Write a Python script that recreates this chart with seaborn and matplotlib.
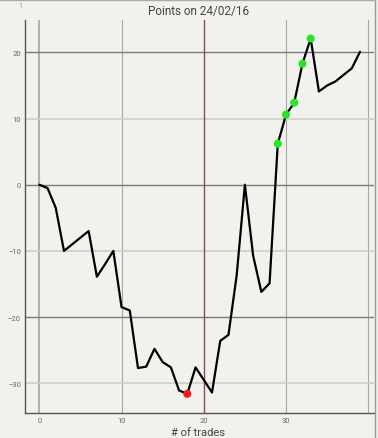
import matplotlib
matplotlib.use("Agg")
import matplotlib.pyplot as plt
import seaborn as sns
import pandas as pd
from matplotlib import font_manager
from matplotlib.lines import Line2D

trades = list(range(40))
points = [0.0, -0.5, -3.5, -10.0, -9.0, -8.0, -7.0, -13.9, -12.0, -10.0,
          -18.5, -19.0, -27.7, -27.5, -24.8, -26.8, -27.6, -31.1, -31.6, -27.6,
          -29.5, -31.4, -23.6, -22.7, -13.7, 0.0, -10.7, -16.2, -14.9, 6.2,
          10.6, 12.4, 18.3, 22.1, 14.1, 15.0, 15.6, 16.6, 17.6, 20.1]
green_idx = [29, 30, 31, 32, 33]
red_idx = [18]
marker_x = 20
title = "Points on 24/02/16"
xlabel = "# of trades"
xticks = [0, 10, 20, 30, 40]
yticks = [-30, -20, -10, 0, 10, 20]

names = {f.name for f in font_manager.fontManager.ttflist}
fam = "Liberation Sans Narrow" if "Liberation Sans Narrow" in names else "Roboto"

sns.set_style("white")
plt.rcParams["font.family"] = [fam, "DejaVu Sans"]

bg = "#f1f1ed"
fig = plt.figure(figsize=(3.78, 4.39), dpi=100, facecolor=bg)
ax = fig.add_axes([25/378, 1-414/439, (374-25)/378, (414-21)/439])
ax.set_facecolor(bg)

df = pd.DataFrame({"trade": trades, "points": points})
sns.lineplot(data=df, x="trade", y="points", color="black", lw=1.6, ax=ax, zorder=4)
g = df.iloc[green_idx]
r = df.iloc[red_idx]
sns.scatterplot(data=g, x="trade", y="points", color="#22e822", s=34, edgecolor="none", ax=ax, zorder=5)
sns.scatterplot(data=r, x="trade", y="points", color="#ee1c1c", s=34, edgecolor="none", ax=ax, zorder=5)

ax.axvline(marker_x, color="#8c4a4e", lw=1.0, zorder=3)

ax.set_xlim(-1.74, 40.7)
ax.set_ylim(-34.5, 24.9)
ax.set_xticks(xticks)
ax.set_yticks(yticks)
ax.set_xticklabels([str(t) if t != 40 else "" for t in xticks])
ax.grid(True, zorder=0)
for i, gl in enumerate(ax.get_ygridlines()):
    v = yticks[i]
    gl.set_color("#7a7a7a" if v % 20 == 0 else "#cdcdc9")
    gl.set_linewidth(1.0 if v % 20 == 0 else 1.2)
for i, gl in enumerate(ax.get_xgridlines()):
    v = xticks[i]
    gl.set_color("#b0b0ac" if v == 0 else "#a8a8a4")
    gl.set_linewidth(1.5 if v == 0 else 0.8)
    if v == 20:
        gl.set_visible(False)

ax.tick_params(axis="both", length=0, labelsize=5.5, labelcolor="#666666", pad=3)
for s in ["top", "right"]:
    ax.spines[s].set_visible(False)
for s in ["left", "bottom"]:
    ax.spines[s].set_color("#555555")
    ax.spines[s].set_linewidth(1.0)

ax.set_xlabel("")
ax.set_ylabel("")
fig.text(199/378, 1-12/439, title, ha="center", va="center", fontsize=8.5, color="#444444")
fig.text(198/378, 1-433/439, xlabel, ha="center", va="center", fontsize=8, color="#444444")
fig.text(20/378, 1-6/439, "1", ha="center", va="center", fontsize=5, color="#999999")

fig.add_artist(Line2D([374.5/378, 374.5/378], [0, 1], transform=fig.transFigure, color="#9a9a96", lw=1.0))
fig.add_artist(Line2D([0, 374.5/378], [1-1/439, 1-1/439], transform=fig.transFigure, color="#aaaaa6", lw=1.0))

fig.savefig("out.png", dpi=100, facecolor=bg)
